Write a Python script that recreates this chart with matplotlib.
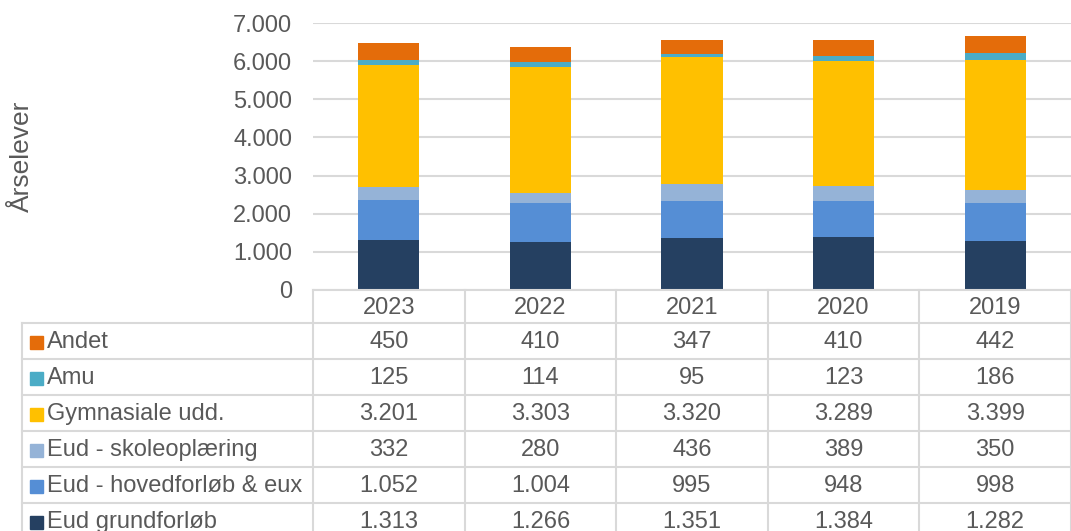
"""
Stacked bar chart of årselever per year with an Excel-style data table below.
"""

import matplotlib.pyplot as plt
import numpy as np

years = ["2023", "2022", "2021", "2020", "2019"]
series = [
    "Eud grundforløb",
    "Eud - hovedforløb & eux",
    "Eud - skoleoplæring",
    "Gymnasiale udd.",
    "Amu",
    "Andet",
]
eud_grund = [1313, 1266, 1351, 1384, 1282]
eud_hoved = [1052, 1004, 995, 948, 998]
eud_skole = [332, 280, 436, 389, 350]
gymnasiale = [3201, 3303, 3320, 3289, 3399]
amu = [125, 114, 95, 123, 186]
andet = [450, 410, 347, 410, 442]
values = [eud_grund, eud_hoved, eud_skole, gymnasiale, amu, andet]
colors = ["#254061", "#558ED5", "#95B3D7", "#FFC000", "#4BACC6", "#E46C0A"]

TEXT = "#595959"
GRID = "#D9D9D9"
W, H = 1071, 531
FS = 17


def fmt(v):
    return f"{v:,}".replace(",", ".")


plt.rcParams["font.family"] = ["Liberation Sans", "DejaVu Sans"]
fig = plt.figure(figsize=(W / 100, H / 100), dpi=100)

# plot area in pixels
px_left, px_right, px_top, px_bottom = 313, 1071, 23, 290
ax = fig.add_axes([px_left / W, 1 - px_bottom / H,
                   (px_right - px_left) / W, (px_bottom - px_top) / H])
x = np.arange(len(years))
bottom = np.zeros(len(years))
for vals, col in zip(values, colors):
    ax.bar(x, vals, width=0.405, bottom=bottom, color=col, zorder=3)
    bottom += np.array(vals)
ax.set_xlim(-0.5, len(years) - 0.5)
ax.set_ylim(0, 7000)
ax.set_yticks(range(0, 7001, 1000))
ax.set_yticklabels([fmt(v) for v in range(0, 7001, 1000)])
ax.set_xticks([])
ax.grid(axis="y", color=GRID, linewidth=1.5, zorder=0)
for s in ax.spines.values():
    s.set_visible(False)
ax.tick_params(axis="y", length=0, pad=15, labelsize=FS, labelcolor=TEXT)
fig.text(22 / W, 1 - 156 / H, "Årselever", rotation=90, ha="center",
         va="center", fontsize=19, color=TEXT)

# data table, drawn on an overlay axes in pixel coordinates
tab = fig.add_axes([0, 0, 1, 1])
tab.set_xlim(0, W)
tab.set_ylim(H, 0)
tab.axis("off")
col_w = (px_right - px_left) / len(years)
head_h = 33
row_h = 36
left_edge = 22
lw = 1.5

tab.plot([px_left, px_right], [px_bottom, px_bottom], color=GRID, lw=lw)
for i in range(len(years) + 1):
    cx = px_left + i * col_w
    tab.plot([cx, cx], [px_bottom, H], color=GRID, lw=lw)
tab.plot([left_edge, left_edge], [px_bottom + head_h, H], color=GRID, lw=lw)
for j, yr in enumerate(years):
    tab.text(px_left + (j + 0.5) * col_w, px_bottom + head_h / 2 + 1, yr,
             ha="center", va="center", fontsize=FS, color=TEXT)

rows = list(zip(series, values, colors))[::-1]
for r, (name, vals, col) in enumerate(rows):
    top = px_bottom + head_h + r * row_h
    tab.plot([left_edge, px_right], [top, top], color=GRID, lw=lw)
    cy = top + row_h / 2 + 1
    tab.add_patch(plt.Rectangle((30, cy - 6), 13, 13, color=col))
    tab.text(47, cy, name, ha="left", va="center", fontsize=FS, color=TEXT)
    for j, v in enumerate(vals):
        tab.text(px_left + (j + 0.5) * col_w, cy, fmt(v), ha="center",
                 va="center", fontsize=FS, color=TEXT)

fig.savefig("out.png", dpi=100)
